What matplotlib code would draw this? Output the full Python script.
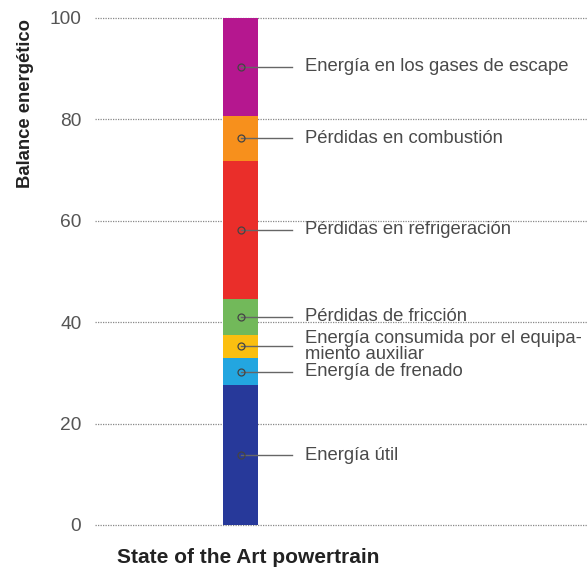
import numpy as np
import matplotlib.pyplot as plt

plt.rcParams['font.family'] = ['Liberation Sans', 'DejaVu Sans']

# energy balance of the powertrain, bottom to top (percent)
etiquetas = ["Energía útil",
             "Energía de frenado",
             "Energía consumida por el equipa-\nmiento auxiliar",
             "Pérdidas de fricción",
             "Pérdidas en refrigeración",
             "Pérdidas en combustión",
             "Energía en los gases de escape"]
valores = [27.6, 5.3, 4.6, 7.1, 27.2, 8.9, 19.3]
colores = ["#27399a", "#23a6e0", "#fbbf10", "#72b95a", "#ea2e2a", "#f7901c", "#b5178f"]
yticks = [0, 20, 40, 60, 80, 100]

fig = plt.figure(figsize=(5.88, 5.71), dpi=100)
ax = fig.add_axes([0.162, 0.0806, 0.838, 0.888])

xbar = 0.295
ancho = 0.071
base = np.concatenate([[0], np.cumsum(valores)[:-1]])
ax.bar([xbar] * len(valores), valores, width=ancho, bottom=base,
       color=colores, zorder=3)

gris = "#4a4a4a"
for b, v, txt in zip(base, valores, etiquetas):
    ym = b + v / 2
    ax.plot([xbar, 0.40], [ym, ym], color="#666666", lw=1.0, zorder=4)
    ax.plot(xbar, ym, marker="o", ms=5, mfc="none", mec="#444444", mew=0.9, zorder=5)
    ax.text(0.426, ym, txt, ha="left", va="center", fontsize=13.3,
            color=gris, linespacing=0.92)

ax.set_xlim(0, 1)
ax.set_ylim(0, 100)
ax.set_xticks([])
ax.set_yticks(yticks)
ax.tick_params(axis="y", length=0, pad=10, labelsize=13.8, labelcolor="#555555")
for s in ax.spines.values():
    s.set_visible(False)
for t in yticks:
    ax.axhline(t, color="#888888", lw=0.9, ls=(0, (1, 1)), zorder=1, clip_on=False)

fig.text(0.043, 0.818, "Balance energético", rotation=90, ha="center", va="center",
         fontsize=13.3, fontweight="bold", color="#222222")
fig.text(0.199, 0.024, "State of the Art powertrain", ha="left", va="center",
         fontsize=15, fontweight="bold", color="#222222")

fig.savefig("out.png", dpi=100)
